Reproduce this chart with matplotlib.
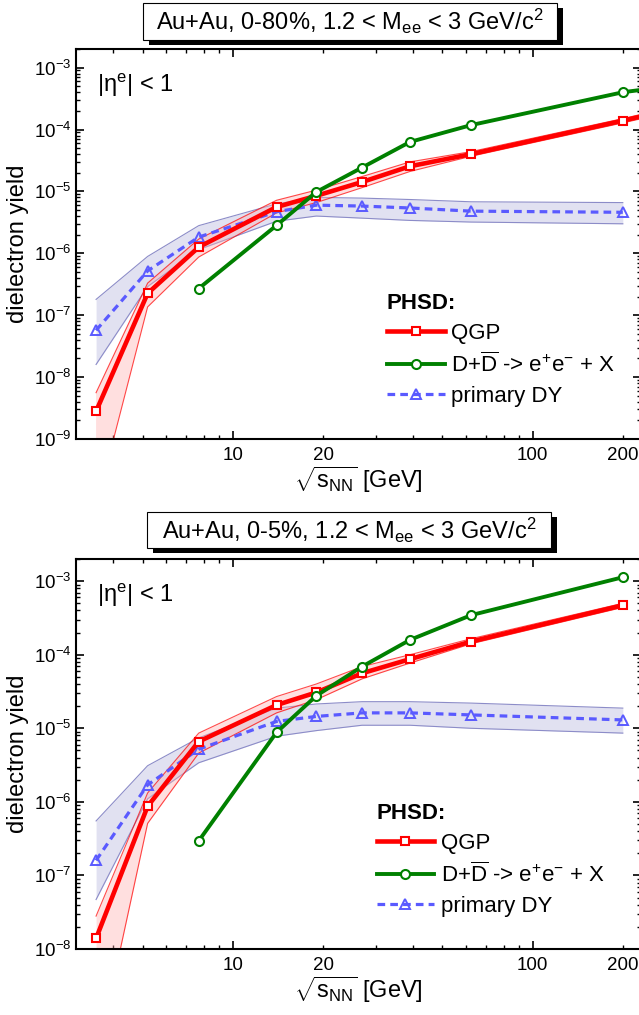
#!/usr/bin/env python3
"""
Dielectron yield vs collision energy (PHSD), two centrality panels.
"""
import matplotlib
matplotlib.use('Agg')
import matplotlib.pyplot as plt
from matplotlib.patches import Rectangle
from matplotlib.ticker import LogLocator, FixedLocator, FuncFormatter, NullFormatter

plt.rcParams['font.family'] = 'Liberation Sans'
plt.rcParams['mathtext.fontset'] = 'custom'
plt.rcParams['mathtext.rm'] = 'Liberation Sans'
plt.rcParams['mathtext.it'] = 'Liberation Sans:italic'
plt.rcParams['mathtext.bf'] = 'Liberation Sans:bold'

# --- DATA ---
energies = [3.5, 5.2, 7.7, 14.0, 19.0, 27.0, 39.0, 62.4, 200.0]
energies_top = energies + [2760.0]          # last point lies outside the x range
energies_charm = [7.7, 14.0, 19.0, 27.0, 39.0, 62.4, 200.0]
energies_charm_top = energies_charm + [2760.0]

# 0-80 %
qgp_80 = [2.8e-9, 2.25e-7, 1.26e-6, 5.6e-6, 8.5e-6, 1.42e-5, 2.55e-5, 4.0e-5, 1.39e-4, 2.6e-3]
qgp_80_hi = [5.6e-9, 3.3e-7, 1.7e-6, 7.2e-6, 1.05e-5, 1.74e-5, 3.0e-5, 4.4e-5, 1.5e-4, 2.9e-3]
qgp_80_lo = [8e-11, 1.36e-7, 8.7e-7, 4.5e-6, 6.6e-6, 1.15e-5, 2.1e-5, 3.7e-5, 1.28e-4, 2.3e-3]
charm_80 = [2.7e-7, 2.83e-6, 9.8e-6, 2.43e-5, 6.3e-5, 1.18e-4, 4.0e-4, 2.1e-3]
dy_80 = [5.7e-8, 5.2e-7, 1.83e-6, 4.7e-6, 6.0e-6, 5.8e-6, 5.4e-6, 4.8e-6, 4.6e-6]
dy_80_hi = [1.8e-7, 8.9e-7, 2.8e-6, 6.3e-6, 8.0e-6, 7.8e-6, 7.4e-6, 6.8e-6, 6.6e-6]
dy_80_lo = [1.6e-8, 2.9e-7, 1.15e-6, 3.3e-6, 4.0e-6, 3.7e-6, 3.4e-6, 3.2e-6, 3.0e-6]

# 0-5 %
qgp_5 = [1.39e-8, 8.7e-7, 6.6e-6, 2.07e-5, 3.07e-5, 5.6e-5, 8.7e-5, 1.51e-4, 4.7e-4]
qgp_5_hi = [2.8e-8, 1.32e-6, 8.6e-6, 2.7e-5, 4.0e-5, 6.9e-5, 1.0e-4, 1.65e-4, 5.0e-4]
qgp_5_lo = [3e-10, 5.1e-7, 4.6e-6, 1.62e-5, 2.45e-5, 4.7e-5, 7.7e-5, 1.41e-4, 4.4e-4]
charm_5 = [2.95e-7, 8.8e-6, 2.77e-5, 6.9e-5, 1.59e-4, 3.45e-4, 1.13e-3]
dy_5 = [1.6e-7, 1.7e-6, 5.2e-6, 1.24e-5, 1.45e-5, 1.62e-5, 1.62e-5, 1.52e-5, 1.3e-5]
dy_5_hi = [5.5e-7, 3.1e-6, 7.4e-6, 1.88e-5, 2.14e-5, 2.3e-5, 2.3e-5, 2.2e-5, 1.88e-5]
dy_5_lo = [4.7e-8, 1.1e-6, 3.4e-6, 7.8e-6, 9.3e-6, 1.1e-5, 1.1e-5, 1.0e-5, 8.6e-6]

x_minor = [4, 5, 6, 7, 8, 9, 20, 30, 40, 50, 60, 70, 80, 90, 200]

RED = '#ff0000'
GREEN = '#008000'
BLUE = '#5a5aff'

W, H = 639, 1015


def fig_box(fig, x0, y0, x1, y1, text):
    """Title box with black drop shadow (pixel coords from top-left)."""
    off = 6
    fig.add_artist(Rectangle(((x0 + off) / W, 1 - (y1 + off - 1) / H), (x1 - x0) / W, (y1 - y0) / H,
                             transform=fig.transFigure, facecolor='black', edgecolor='none', zorder=1))
    fig.add_artist(Rectangle((x0 / W, 1 - y1 / H), (x1 - x0) / W, (y1 - y0) / H,
                             transform=fig.transFigure, facecolor='white', edgecolor='black',
                             linewidth=0.8, zorder=2))
    fig.text((x0 + x1) / 2 / W, 1 - (y0 + y1) / 2 / H, text, ha='center', va='center',
             fontsize=17, zorder=3)


def draw_panel(ax, x_all, qgp, qgp_hi, qgp_lo, x_charm, charm, dy, dy_hi, dy_lo, ymin, legend_anchor):
    # bands
    ax.fill_between(energies, dy_lo, dy_hi, color='#dcdcef', alpha=0.85, lw=0, zorder=1)
    ax.plot(energies, dy_hi, color='#8c8cc8', lw=0.8, zorder=1.5)
    ax.plot(energies, dy_lo, color='#8c8cc8', lw=0.8, zorder=1.5)
    ax.fill_between(x_all, qgp_lo, qgp_hi, color='#ffb0b0', alpha=0.4, lw=0, zorder=2)
    ax.plot(x_all, qgp_hi, color=RED, lw=0.8, alpha=0.7, zorder=2.5)
    ax.plot(x_all, qgp_lo, color=RED, lw=0.8, alpha=0.7, zorder=2.5)

    # curves
    l_dy, = ax.plot(energies, dy, color=BLUE, lw=2.3, dashes=(2.4, 1.6), marker='^', ms=7,
                    mfc='none', mec=BLUE, mew=1.4, label='primary DY', zorder=3)
    l_qgp, = ax.plot(x_all, qgp, color=RED, lw=3.3, marker='s', ms=6, mfc='white', mec=RED,
                     mew=1.5, label='QGP', zorder=4)
    l_ch, = ax.plot(x_charm, charm, color=GREEN, lw=2.8, marker='o', ms=6.5, mfc='white',
                    mec=GREEN, mew=1.5, label=r'D+$\overline{\mathrm{D}}$ -> e$^{+}$e$^{-}$ + X', zorder=5)

    ax.set_xscale('log')
    ax.set_yscale('log')
    ax.set_xlim(3.0, 230)
    ax.set_ylim(ymin, 2.0e-3)

    ax.xaxis.set_major_locator(FixedLocator([10, 100]))
    ax.xaxis.set_minor_locator(FixedLocator(x_minor))
    ax.xaxis.set_major_formatter(FuncFormatter(lambda v, p: '%d' % round(v)))
    ax.xaxis.set_minor_formatter(FuncFormatter(lambda v, p: '%d' % round(v) if round(v) in (20, 200) else ''))
    ax.yaxis.set_major_locator(LogLocator(base=10, numticks=20))
    ax.yaxis.set_minor_locator(LogLocator(base=10, subs=range(2, 10), numticks=20))
    ax.yaxis.set_minor_formatter(NullFormatter())

    ax.tick_params(which='both', direction='in', top=True, right=True, labelsize=13.5)
    ax.tick_params(which='major', length=6, width=1.2)
    ax.tick_params(which='minor', length=3, width=1.0)
    ax.tick_params(axis='x', which='both', pad=6)
    ax.tick_params(axis='y', which='both', pad=3)
    for s in ax.spines.values():
        s.set_linewidth(1.5)

    ax.set_xlabel(r'$\sqrt{\mathrm{s}_{\mathrm{NN}}}$ [GeV]', fontsize=17, labelpad=0)
    ax.set_ylabel('dielectron yield', fontsize=17, labelpad=4)
    ax.text(0.037, 0.89, r'|η$^{\mathrm{e}}$| < 1', transform=ax.transAxes, fontsize=17)

    leg = ax.legend(handles=[l_qgp, l_ch, l_dy], title='PHSD:', loc='upper left',
                    bbox_to_anchor=legend_anchor, frameon=False, fontsize=16,
                    title_fontproperties={'weight': 'bold', 'size': 16}, alignment='left',
                    handlelength=2.6, handletextpad=0.3, labelspacing=0.4,
                    borderpad=0, borderaxespad=0, numpoints=1)
    return leg


fig = plt.figure(figsize=(W / 100, H / 100), dpi=100)
left = 76 / W
width = (641 - 76) / W
ax1 = fig.add_axes([left, 1 - 439 / H, width, 390 / H])
ax2 = fig.add_axes([left, 1 - 949 / H, width, 390 / H])

draw_panel(ax1, energies_top, qgp_80, qgp_80_hi, qgp_80_lo, energies_charm_top, charm_80,
           dy_80, dy_80_hi, dy_80_lo, 1e-9, (0.55, 0.375))
draw_panel(ax2, energies, qgp_5, qgp_5_hi, qgp_5_lo, energies_charm, charm_5,
           dy_5, dy_5_hi, dy_5_lo, 1e-8, (0.532, 0.375))

fig_box(fig, 143, 3, 557, 40, r'Au+Au, 0-80%, 1.2 < M$_{\mathrm{ee}}$ < 3 GeV/c$^{2}$')
fig_box(fig, 147, 512, 551, 548, r'Au+Au, 0-5%, 1.2 < M$_{\mathrm{ee}}$ < 3 GeV/c$^{2}$')

fig.savefig('out.png', dpi=100)
print("saved out.png")
